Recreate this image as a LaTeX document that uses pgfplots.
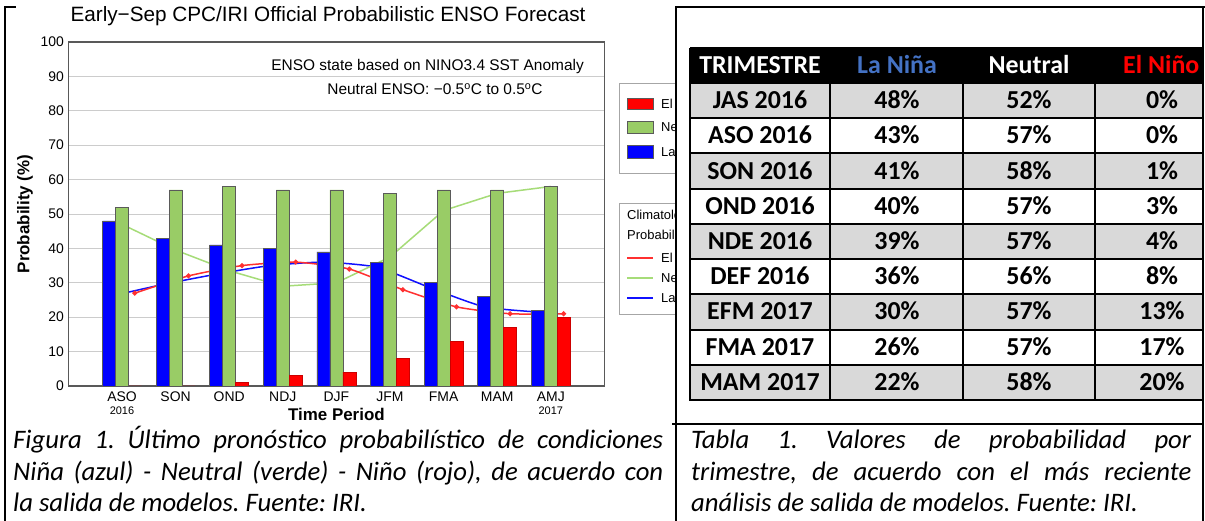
\documentclass[border=0pt]{standalone}
\usepackage{pgfplots}
\pgfplotsset{compat=1.18}
\usepackage{fontspec}
\setmainfont{Liberation Sans}
\newfontfamily\calibrifont{Carlito}
\definecolor{barred}{HTML}{FF0000}
\definecolor{bargreen}{HTML}{99CC66}
\definecolor{barblue}{HTML}{0000FF}
\definecolor{climred}{HTML}{FF3030}
\definecolor{climgreen}{HTML}{A6DC78}
\definecolor{climblue}{HTML}{1010FF}
\definecolor{ninablue}{HTML}{4472C4}
\definecolor{rowgray}{HTML}{D9D9D9}
\definecolor{baredge}{HTML}{5A5A5A}
\frenchspacing
\begin{document}
\begin{tikzpicture}[x=1bp,y=1bp]
\useasboundingbox (0,0) rectangle (1205,521);
\fill[white] (0,0) rectangle (1205,521);

% ---------------- chart ----------------
\begin{axis}[
  at={(68.4bp,135bp)}, anchor=south west,
  width=536bp, height=344bp, scale only axis,
  xmin=-1, xmax=9, ymin=0, ymax=100,
  xtick={0,...,8},
  xticklabels={{ASO\\[-2pt]{\fontsize{11}{11}\selectfont 2016}}, SON, OND, NDJ, DJF, JFM, FMA, MAM, {AMJ\\[-2pt]{\fontsize{11}{11}\selectfont 2017}}},
  ytick={0,10,...,100},
  ymajorgrids, grid style={gray!40, line width=0.8bp},
  major tick length=0pt,
  axis line style={gray!70!black, line width=1.1bp},
  tick label style={font=\fontsize{14}{15}\selectfont},
  /pgf/number format/assume math mode=true,
  xticklabel style={align=center, anchor=north, yshift=-2bp},
  yticklabel style={anchor=east, xshift=-1bp},
  xlabel={Time Period},
  xlabel style={at={(axis description cs:0.5,-0.084)}, anchor=center, font=\fontsize{17}{18}\selectfont\bfseries},
  ylabel={Probability (\%)},
  ylabel style={at={(axis description cs:-0.081,0.5)}, anchor=center, font=\fontsize{17}{18}\selectfont\bfseries},
]
% climatology lines (drawn behind the bars)
\addplot[climblue, line width=1.5bp, smooth, tension=0.35] coordinates {
  (-0.24,26) (0.76,29.5) (1.76,32.5) (2.76,35) (3.76,36) (4.76,34.5) (5.76,28.5) (6.76,23) (7.76,21.5)};
\addplot[climgreen, line width=1.5bp] coordinates {
  (0,47) (1,39.5) (2,33.5) (3,29) (4,30) (5,37.5) (6,51) (7,56) (8,58)};
\addplot[climred, line width=1.5bp, smooth, tension=0.35, mark=*, mark size=1.7bp, mark options={fill=climred, draw=climred}] coordinates {
  (0.24,27) (1.24,32) (2.24,35) (3.24,36) (4.24,34) (5.24,28) (6.24,23) (7.24,21) (8.24,21)};
% bars
\addplot[ybar, bar width=13bp, bar shift=-13bp, fill=barblue, draw=baredge, line width=0.6bp] coordinates {
  (0,48) (1,43) (2,41) (3,40) (4,39) (5,36) (6,30) (7,26) (8,22)};
\addplot[ybar, bar width=13bp, bar shift=0bp, fill=bargreen, draw=baredge, line width=0.6bp] coordinates {
  (0,52) (1,57) (2,58) (3,57) (4,57) (5,56) (6,57) (7,57) (8,58)};
\addplot[ybar, bar width=13bp, bar shift=13bp, fill=barred, draw=barred!80!black, line width=0.6bp] coordinates {
  (0,0) (1,0) (2,1) (3,3) (4,4) (5,8) (6,13) (7,17) (8,20)};
\end{axis}

% title and annotations
\node[anchor=base, inner sep=0, font=\fontsize{20.8}{22}\selectfont] at (328,499) {Early−Sep CPC/IRI Official Probabilistic ENSO Forecast};
\node[anchor=base east, inner sep=0, font=\fontsize{15.5}{17}\selectfont] at (584,450.5) {ENSO state based on NINO3.4 SST Anomaly};
\node[anchor=base, inner sep=0, font=\fontsize{15.5}{17}\selectfont] at (435,426.5) {Neutral ENSO: −0.5\textsuperscript{o}C to 0.5\textsuperscript{o}C};

% legends (cut at the panel edge)
\begin{scope}
\clip (607,0) rectangle (676,521);
\draw[gray!70, fill=white, line width=0.8bp] (619,438) rectangle (740,348);
\draw[baredge, fill=barred] (627,423) rectangle (653,412);
\draw[baredge, fill=bargreen] (627,400) rectangle (653,388);
\draw[baredge, fill=barblue] (627,376) rectangle (653,363);
\node[anchor=west, inner sep=0, font=\fontsize{13}{14}\selectfont] at (661,417.5) {El Niño};
\node[anchor=west, inner sep=0, font=\fontsize{13}{14}\selectfont] at (661,394) {Neutral};
\node[anchor=west, inner sep=0, font=\fontsize{13}{14}\selectfont] at (661,369.5) {La Niña};
\draw[gray!70, fill=white, line width=0.8bp] (619,318) rectangle (740,207);
\node[anchor=west, inner sep=0, font=\fontsize{13}{14}\selectfont] at (627,305) {Climatological};
\node[anchor=west, inner sep=0, font=\fontsize{13}{14}\selectfont] at (627,285) {Probability:};
\draw[climred, line width=1.5bp] (627,263) -- (653,263);
\draw[climgreen, line width=1.5bp] (627,243) -- (653,243);
\draw[climblue, line width=1.5bp] (627,223) -- (653,223);
\node[anchor=west, inner sep=0, font=\fontsize{13}{14}\selectfont] at (661,263) {El Niño};
\node[anchor=west, inner sep=0, font=\fontsize{13}{14}\selectfont] at (661,243) {Neutral};
\node[anchor=west, inner sep=0, font=\fontsize{13}{14}\selectfont] at (661,223) {La Niña};
\end{scope}

% ---------------- table ----------------
\begin{scope}
\clip (676,0) rectangle (1203,521);
\fill[black] (690,438) rectangle (1240,473);
\foreach \k in {1,3,5,7,9} {
  \fill[rowgray] (690,{438-(\k-1)*35.22}) rectangle (1240,{438-\k*35.22});
}
\foreach \k in {0,...,9} {
  \draw[black, line width=2bp] (689,{438-\k*35.22}) -- (1240,{438-\k*35.22});
}
\foreach \xx in {830,963,1095} {
  \draw[black, line width=2bp] (\xx,438) -- (\xx,121.02);
}
\draw[black, line width=2bp] (690,473) -- (690,121.02);
\draw[black, line width=2bp] (690,473) -- (1240,473);
\begin{scope}[every node/.style={inner sep=0, font=\calibrifont\bfseries\fontsize{26}{27}\selectfont}]
\node[anchor=base, white] at (760,447.5) {TRIMESTRE};
\node[anchor=base, ninablue] at (897,447.5) {La Niña};
\node[anchor=base, white] at (1029,447.5) {Neutral};
\node[anchor=base west, barred] at (1123,447.5) {El Niño};
\foreach \lab/\a/\b/\c [count=\k] in {JAS 2016/48/52/0, ASO 2016/43/57/0, SON 2016/41/58/1, OND 2016/40/57/3, NDE 2016/39/57/4, DEF 2016/36/56/8, EFM 2017/30/57/13, FMA 2017/26/57/17, MAM 2017/22/58/20} {
  \node[anchor=base] at (760,{430-(\k-0.5)*35.22}) {\lab};
  \node[anchor=base] at (897,{430-(\k-0.5)*35.22}) {\a\%};
  \node[anchor=base] at (1029,{430-(\k-0.5)*35.22}) {\b\%};
  \node[anchor=base] at (1162,{430-(\k-0.5)*35.22}) {\c\%};
}
\end{scope}
\end{scope}

% ---------------- captions ----------------
\begin{scope}[every node/.style={anchor=base west, inner sep=0, font=\calibrifont\itshape\fontsize{26.8}{30}\selectfont}]
\node at (13,72) {\makebox[650bp][s]{Figura 1. Último pronóstico probabilístico de condiciones}};
\node at (13,40.5) {\makebox[650bp][s]{Niña (azul) - Neutral (verde) - Niño (rojo), de acuerdo con}};
\node at (13,9) {la salida de modelos. Fuente: IRI.};
\node at (691,72) {\makebox[500bp][s]{Tabla 1. Valores de probabilidad por}};
\node at (691,40.5) {\makebox[500bp][s]{trimestre, de acuerdo con el más reciente}};
\node at (691,9) {análisis de salida de modelos. Fuente: IRI.};
\end{scope}

% ---------------- frame lines ----------------
\draw[black, line width=2bp] (5,0) -- (5,514) -- (16,514);
\draw[black, line width=1.2bp] (676,97) -- (676,514) -- (1205,514);
\draw[black, line width=2bp] (676,0) -- (676,97);
\draw[black, line width=2bp] (672,97) -- (1203,97);
\draw[black, line width=2bp] (1203,0) -- (1203,514);
\end{tikzpicture}
\end{document}
